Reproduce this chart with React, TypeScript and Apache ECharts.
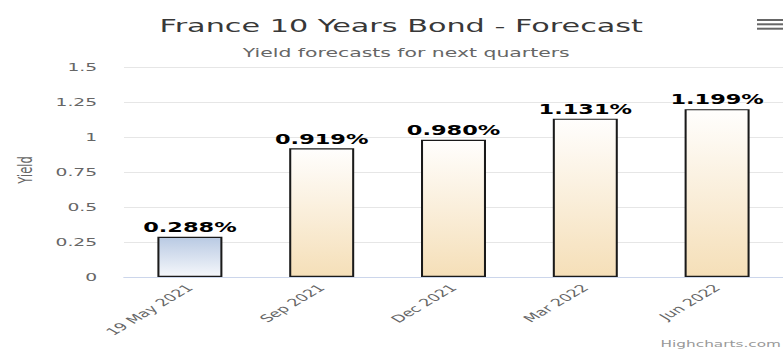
import React, { useEffect, useRef } from "react";
import * as echarts from "echarts";

const categories = ["19 May 2021", "Sep 2021", "Dec 2021", "Mar 2022", "Jun 2022"];
const yieldValues = [0.288, 0.919, 0.98, 1.131, 1.199];
const yTicks = { min: 0, max: 1.5, interval: 0.25 };
const titleText = "France 10 Years Bond - Forecast";
const subtitleText = "Yield forecasts for next quarters";
const axisTitle = "Yield";
const creditText = "Highcharts.com";

const S = 1.7; // horizontal stretch of the reference picture
const W = 783 / S;
const H = 350;

const blueGrad = new echarts.graphic.LinearGradient(0, 0, 0, 1, [
  { offset: 0, color: "#b9cae3" },
  { offset: 1, color: "#f5f7fb" },
]);
const wheatGrad = new echarts.graphic.LinearGradient(0, 0, 0, 1, [
  { offset: 0, color: "#fffefd" },
  { offset: 1, color: "#f5dfb8" },
]);

export default function App() {
  const ref = useRef<HTMLDivElement>(null);
  useEffect(() => {
    if (!ref.current) return;
    const chart = echarts.init(ref.current, undefined, { renderer: "svg", width: W, height: H });
    const font = "DejaVu Sans";
    chart.setOption({
      animation: false,
      backgroundColor: "#ffffff",
      textStyle: { fontFamily: font },
      title: [
        {
          text: titleText,
          left: 231,
          top: 11.5,
          textAlign: "center",
          textStyle: { fontFamily: font, fontSize: 17.8, fontWeight: "normal", color: "#383838" },
        },
        {
          text: subtitleText,
          left: 234,
          top: 41.5,
          textAlign: "center",
          textStyle: { fontFamily: font, fontSize: 12, fontWeight: "normal", color: "#666666" },
        },
      ],
      grid: { left: 124 / S, right: W - 790 / S, top: 67, bottom: H - 277, containLabel: false },
      xAxis: {
        type: "category",
        data: categories,
        z: 3,
        axisLine: { show: true, lineStyle: { color: "#ccd6eb", width: 1 } },
        axisTick: { show: false },
        axisLabel: { rotate: 45, margin: 9, fontSize: 10.3, color: "#666666", fontFamily: font, interval: 0 },
        splitLine: { show: false },
      },
      yAxis: {
        type: "value",
        min: yTicks.min,
        max: yTicks.max,
        interval: yTicks.interval,
        axisLine: { show: false },
        axisTick: { show: false },
        axisLabel: { margin: 15.8, fontSize: 11, color: "#666666", fontFamily: font },
        splitLine: { lineStyle: { color: "#e6e6e6", width: 1 } },
      },
      series: [
        {
          type: "bar",
          data: yieldValues.map((v, i) => ({
            value: v,
            itemStyle: { color: i === 0 ? blueGrad : wheatGrad },
          })),
          barWidth: 65 / S,
          itemStyle: { borderColor: "#1a1a1a", borderWidth: 1.2 },
          label: {
            show: true,
            position: "top",
            distance: 3,
            fontFamily: font,
            fontSize: 13.2,
            fontWeight: "bold",
            color: "#000000",
            formatter: (p: any) => `${Number(p.value).toFixed(3)}%`,
          },
        },
      ],
      graphic: [
        {
          type: "text",
          x: 25 / S,
          y: 170,
          rotation: Math.PI / 2,
          style: { text: axisTitle, fontFamily: font, fontSize: 11.5, fill: "#666666", align: "center", verticalAlign: "middle" },
        },
        { type: "rect", shape: { x: 757 / S, y: 19, width: 26 / S, height: 2 }, style: { fill: "#666666" } },
        { type: "rect", shape: { x: 757 / S, y: 23.3, width: 26 / S, height: 2 }, style: { fill: "#666666" } },
        { type: "rect", shape: { x: 757 / S, y: 27.7, width: 26 / S, height: 2 }, style: { fill: "#666666" } },
        {
          type: "text",
          x: W - 2 / S,
          y: 348.5,
          style: { text: creditText, fontFamily: font, fontSize: 9, fill: "#999999", align: "right", verticalAlign: "bottom" },
        },
      ],
    });
    return () => chart.dispose();
  }, []);

  return (
    <div style={{ position: "fixed", left: 0, top: 0, width: 783, height: H, overflow: "hidden", background: "#fff" }}>
      <div
        ref={ref}
        style={{ width: W, height: H, transform: `scaleX(${S})`, transformOrigin: "0 0" }}
      />
    </div>
  );
}
